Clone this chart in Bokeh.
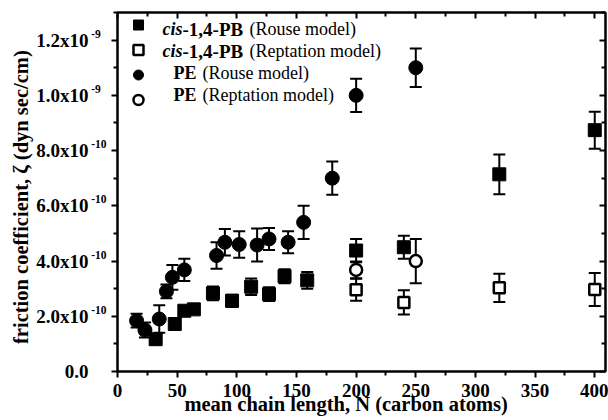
from bokeh.plotting import figure
from bokeh.models import (ColumnDataSource, Whisker, TeeHead, FixedTicker, LinearAxis,
                          Range1d, Legend, LegendItem, Label, CustomJSTickFormatter)
from bokeh.embed import file_html
from bokeh.resources import INLINE

# ---------------- data ----------------
pb_n = [32, 48, 56, 64, 80, 96, 112, 127, 140, 159, 200, 240, 320, 400]
pb_rouse = [1.17e-10, 1.72e-10, 2.20e-10, 2.25e-10, 2.83e-10, 2.56e-10, 3.07e-10,
            2.80e-10, 3.45e-10, 3.30e-10, 4.38e-10, 4.50e-10, 7.14e-10, 8.74e-10]
pb_rouse_err = [0.08e-10, 0.10e-10, 0.10e-10, 0.10e-10, 0.25e-10, 0.22e-10, 0.30e-10,
                0.25e-10, 0.25e-10, 0.30e-10, 0.42e-10, 0.42e-10, 0.72e-10, 0.67e-10]

pb_rep_n = [200, 240, 320, 400]
pb_rep = [2.96e-10, 2.50e-10, 3.03e-10, 2.97e-10]
pb_rep_err = [0.40e-10, 0.44e-10, 0.51e-10, 0.60e-10]

pe_n = [16, 23, 35, 41, 46, 56, 83, 90, 102, 117, 127, 143, 156, 180, 200, 250]
pe_rouse = [1.84e-10, 1.50e-10, 1.90e-10, 2.90e-10, 3.41e-10, 3.68e-10, 4.20e-10, 4.68e-10,
            4.60e-10, 4.58e-10, 4.80e-10, 4.68e-10, 5.40e-10, 7.00e-10, 10.0e-10, 11.0e-10]
pe_rouse_err = [0.25e-10, 0.27e-10, 0.50e-10, 0.25e-10, 0.45e-10, 0.40e-10, 0.48e-10, 0.48e-10,
                0.48e-10, 0.60e-10, 0.40e-10, 0.40e-10, 0.60e-10, 0.60e-10, 0.60e-10, 0.70e-10]

pe_rep_n = [200, 250]
pe_rep = [3.68e-10, 4.00e-10]
pe_rep_err = [0.30e-10, 0.80e-10]

x_ticks = [0, 50, 100, 150, 200, 250, 300, 350, 400]
x_minor = [25, 75, 125, 175, 225, 275, 325, 375]
y_ticks = [0, 2e-10, 4e-10, 6e-10, 8e-10, 1.0e-9, 1.2e-9]
y_minor = [1e-10, 3e-10, 5e-10, 7e-10, 9e-10, 1.1e-9, 1.3e-9]
y_tick_base = ["0.0", "2.0x10", "4.0x10", "6.0x10", "8.0x10", "1.0x10", "1.2x10"]
y_tick_exp = ["", "-10", "-10", "-10", "-10", "-9", "-9"]

x_title = "mean chain length, N (carbon atoms)"
y_title = "friction coefficient, \u03b6 (dyn sec/cm)"

legend_rows = [
    ("cis", "-1,4-PB", "(Rouse model)"),
    ("cis", "-1,4-PB", "(Reptation model)"),
    ("", "PE", "(Rouse model)"),
    ("", "PE", "(Reptation model)"),
]

FONT = "Liberation Serif"
W, H = 608, 420
ML, MR, MT, MB = 117, 3, 12, 49
Y0, Y1 = 0, 1.3e-9
FH = H - MT - MB
px = (Y1 - Y0) / FH  # data units per vertical pixel

p = figure(width=W, height=H, output_backend="svg", toolbar_location=None,
           x_range=Range1d(0, 409), y_range=Range1d(Y0, Y1),
           min_border_left=ML, min_border_right=MR, min_border_top=MT, min_border_bottom=MB,
           background_fill_color="white", border_fill_color="white")
p.xgrid.visible = False
p.ygrid.visible = False
p.outline_line_color = "black"
p.outline_line_width = 2


def src(n, v, e):
    return ColumnDataSource(dict(x=n, y=v, upper=[a + b for a, b in zip(v, e)],
                                 lower=[a - b for a, b in zip(v, e)]))


s_pbr = src(pb_n, pb_rouse, pb_rouse_err)
s_pbt = src(pb_rep_n, pb_rep, pb_rep_err)
s_per = src(pe_n, pe_rouse, pe_rouse_err)
s_pet = src(pe_rep_n, pe_rep, pe_rep_err)

for s in (s_pbr, s_pbt, s_per, s_pet):
    w = Whisker(source=s, base="x", upper="upper", lower="lower", line_width=2,
                line_color="black",
                upper_head=TeeHead(size=12, line_width=2, line_color="black"),
                lower_head=TeeHead(size=12, line_width=2, line_color="black"))
    p.add_layout(w)

r_pbr = p.scatter("x", "y", source=s_pbr, marker="square", size=13,
                  fill_color="black", line_color="black", line_width=1)
r_per = p.scatter("x", "y", source=s_per, marker="circle", size=14,
                  fill_color="black", line_color="black", line_width=1)
r_pbt = p.scatter("x", "y", source=s_pbt, marker="square", size=11,
                  fill_color="white", line_color="black", line_width=2.5)
r_pet = p.scatter("x", "y", source=s_pet, marker="circle", size=12,
                  fill_color="white", line_color="black", line_width=2.5)

# ---------------- axes ----------------
blank = CustomJSTickFormatter(code="return '';")
lookup = """
let best = 0;
for (let i = 0; i < vals.length; i++) {
  if (Math.abs(vals[i] - tick) < Math.abs(vals[best] - tick)) best = i;
}
return labels[best];
"""

xa = p.xaxis[0]
ya = p.yaxis[0]
xa.ticker = FixedTicker(ticks=x_ticks, minor_ticks=x_minor)
ya.ticker = FixedTicker(ticks=y_ticks, minor_ticks=y_minor)
ya.formatter = blank
for ax in (xa, ya):
    ax.axis_line_width = 2
    ax.major_tick_line_width = 2
    ax.minor_tick_line_width = 2
    ax.major_tick_out = 6
    ax.major_tick_in = 0
    ax.minor_tick_out = 4
    ax.minor_tick_in = 0
xa.major_label_text_font = FONT
xa.major_label_text_font_style = "bold"
xa.major_label_text_font_size = "19px"
xa.major_label_text_color = "black"
xa.major_label_standoff = 6
xa.axis_label = x_title + "\u2002" * 3
xa.axis_label_text_font = FONT
xa.axis_label_text_font_style = "bold"
xa.axis_label_text_font_size = "20.5px"
xa.axis_label_text_color = "black"
xa.axis_label_standoff = -7
ya.major_label_standoff = 0
ya.major_label_text_font_size = "1px"

# exponent labels (raised), just left of the ticks
exp_ticks = [t + 6.5 * px for t, e in zip(y_ticks, y_tick_exp) if e]
exp_labels = [e + ("\u2002" if len(e) == 2 else "") for e in y_tick_exp if e]
ya_exp = LinearAxis(ticker=FixedTicker(ticks=exp_ticks, minor_ticks=[]),
                    formatter=CustomJSTickFormatter(args=dict(labels=exp_labels, vals=exp_ticks),
                                                    code=lookup))
# base labels, left of the exponents
ya_base = LinearAxis(ticker=FixedTicker(ticks=y_ticks, minor_ticks=[]),
                     formatter=CustomJSTickFormatter(args=dict(labels=y_tick_base, vals=y_ticks),
                                                     code=lookup))
for ax in (ya_exp, ya_base):
    ax.axis_line_color = None
    ax.major_tick_line_color = None
    ax.minor_tick_line_color = None
    ax.major_tick_out = 0
    ax.major_tick_in = 0
    ax.minor_tick_out = 0
    ax.minor_tick_in = 0
    ax.major_label_text_font = FONT
    ax.major_label_text_font_style = "bold"
    ax.major_label_text_color = "black"
ya_exp.major_label_text_font_size = "11.5px"
ya_exp.major_label_standoff = 5
ya_base.major_label_text_font_size = "19px"
ya_base.major_label_standoff = 0
ya_base.axis_label = y_title + "\u2002"
ya_base.axis_label_text_font = FONT
ya_base.axis_label_text_font_style = "bold"
ya_base.axis_label_text_font_size = "20.5px"
ya_base.axis_label_text_color = "black"
ya_base.axis_label_standoff = 1
p.add_layout(ya_exp, "left")
p.add_layout(ya_base, "left")

top = LinearAxis(ticker=FixedTicker(ticks=x_ticks, minor_ticks=x_minor), formatter=blank)
right = LinearAxis(ticker=FixedTicker(ticks=y_ticks, minor_ticks=y_minor), formatter=blank)
for ax in (top, right):
    ax.axis_line_width = 2
    ax.major_tick_line_width = 2
    ax.minor_tick_line_width = 2
    ax.major_tick_out = 0
    ax.major_tick_in = 6
    ax.minor_tick_out = 0
    ax.minor_tick_in = 4
    ax.major_label_text_font_size = "1px"
    ax.major_label_standoff = 0
p.add_layout(top, "above")
p.add_layout(right, "right")

# ---------------- legend (markers) ----------------
legend = Legend(items=[LegendItem(label=" ", renderers=[r]) for r in (r_pbr, r_pbt, r_per, r_pet)],
                location="top_left", margin=0, padding=4, spacing=-3,
                glyph_width=42, glyph_height=25, label_height=25,
                label_text_font_size="10px", label_standoff=0, label_width=1,
                border_line_color=None, background_fill_alpha=0)
p.add_layout(legend, "center")

# legend texts (inside the frame)
row_y = [16.5, 38.5, 60.5, 82.5]
for (it, bd, nm), yy in zip(legend_rows, row_y):
    sy = FH - yy
    if it:
        p.add_layout(Label(x=45, y=sy, x_units="screen", y_units="screen", text=it,
                           text_font=FONT, text_font_style="bold italic", text_font_size="18px",
                           text_baseline="middle", text_color="black"))
        p.add_layout(Label(x=65, y=sy, x_units="screen", y_units="screen", text=bd,
                           text_font=FONT, text_font_style="bold", text_font_size="19px",
                           text_baseline="middle", text_color="black"))
        nx = 132
    else:
        p.add_layout(Label(x=56, y=sy, x_units="screen", y_units="screen", text=bd,
                           text_font=FONT, text_font_style="bold", text_font_size="18px",
                           text_baseline="middle", text_color="black"))
        nx = 85
    p.add_layout(Label(x=nx, y=sy, x_units="screen", y_units="screen", text=nm,
                       text_font=FONT, text_font_style="normal", text_font_size="18px",
                       text_baseline="middle", text_color="black"))

open("out.html", "w").write(file_html(p, INLINE))
